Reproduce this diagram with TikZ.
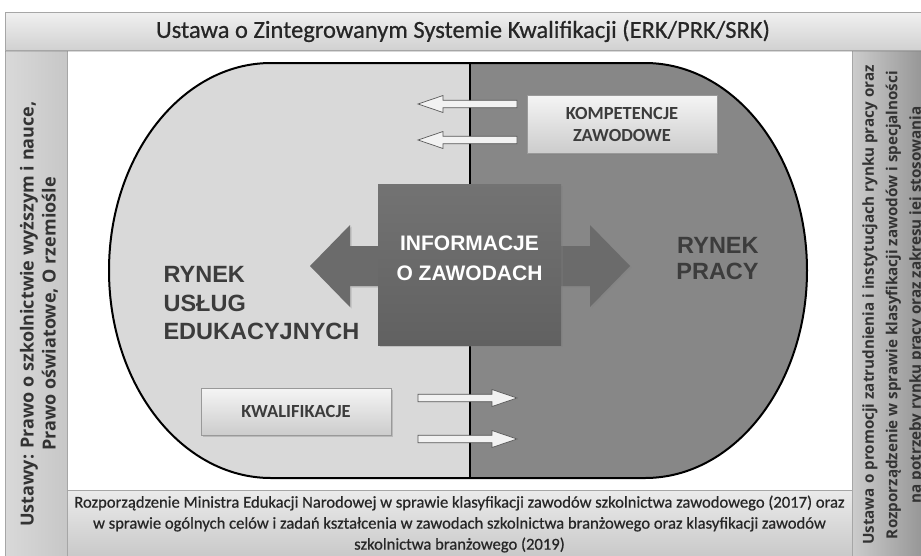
\documentclass[tikz,border=0pt]{standalone}
\usepackage{fontspec}
\setmainfont{Carlito}
\newfontfamily\calmed{Carlito}[FakeBold=0.6]
\newfontfamily\arialf{Liberation Sans}
\newfontfamily\osans{Open Sans}
\usetikzlibrary{shadows}
\definecolor{lgray}{HTML}{D9D9D9}
\definecolor{dgray}{HTML}{878787}
\definecolor{txtdark}{HTML}{3C3C3C}
\definecolor{barline}{HTML}{A6A6A6}
\tikzset{
  barbox/.style={draw=barline, line width=0.8pt, inner sep=0pt, anchor=north west},
  lightbox/.style={draw=black!40, line width=0.6pt, top color=white!96!black, bottom color=black!20,
    inner sep=0pt, font=\fontsize{18.5}{22}\selectfont\bfseries, text=txtdark, align=center,
    drop shadow={opacity=0.35, shadow xshift=1.5pt, shadow yshift=-1.5pt}},
  bigtxt/.style={font=\arialf\bfseries\fontsize{23.5}{28.5}\selectfont, text=txtdark},
  hollow/.style={fill=white!95!black, draw=black!65, line width=0.7pt},
  harrow/.pic={\filldraw[hollow] (0,-3.7) -- (74,-3.7) -- (74,-8.5) -- (99,0) -- (74,8.5) -- (74,3.7) -- (0,3.7) -- cycle;}
}
\begin{document}
\begin{tikzpicture}[x=1pt,y=-1pt]
\useasboundingbox (0,0) rectangle (921,555);
\clip (0,0) rectangle (921,555);
\fill[white] (0,0) rectangle (921,555);
% frame bars
\node[barbox, minimum width=62pt, minimum height=528pt, left color=black!15, right color=black!22] (lbar) at (5,50) {};
\node[rotate=90, align=center, font=\osans\bfseries\fontsize{18}{22}\selectfont, text=black!80] (ltxt) at (39,314)
  {Ustawy: Prawo o szkolnictwie wyższym i nauce,\\Prawo oświatowe, O rzemiośle};
\node[barbox, minimum width=83pt, minimum height=510pt, left color=black!20, right color=black!45] (rbar) at (852,50) {};
\node[rotate=90, align=center, font=\osans\bfseries\fontsize{15.2}{23.5}\selectfont, text=black!80] (rtxt) at (893.5,305)
  {Ustawa o promocji zatrudnienia i instytucjach rynku pracy oraz\\Rozporządzenie w sprawie klasyfikacji zawodów i specjalności\\na potrzeby rynku pracy oraz zakresu jej stosowania};
\node[barbox, minimum width=785pt, minimum height=70pt, top color=black!8, bottom color=black!22] (bbar) at (67,490) {};
\node[align=center, font=\calmed\fontsize{16.6}{21}\selectfont, text=black!85] (btxt) at (459.5,524)
  {Rozporządzenie Ministra Edukacji Narodowej w sprawie klasyfikacji zawodów szkolnictwa zawodowego (2017) oraz\\
   w sprawie ogólnych celów i zadań kształcenia w zawodach szkolnictwa branżowego oraz klasyfikacji zawodów\\
   szkolnictwa branżowego (2019)};
\node[barbox, minimum width=916pt, minimum height=38pt, top color=black!6, bottom color=black!18,
  drop shadow={opacity=0.3, shadow xshift=0pt, shadow yshift=-1.5pt}] (ban) at (5,12) {};
\node[font=\calmed\fontsize{24.5}{26}\selectfont, text=black!85] (bantxt) at (463,31)
  {Ustawa o Zintegrowanym Systemie Kwalifikacji (ERK/PRK/SRK)};
% stadium
\begin{scope}
\clip (271,63) -- (645,63) arc[start angle=-90,end angle=90,x radius=162,y radius=207.5]
  -- (271,478) arc[start angle=90,end angle=270,x radius=162,y radius=207.5] -- cycle;
\fill[lgray] (100,55) rectangle (469.5,485);
\fill[dgray] (469.5,55) rectangle (820,485);
\end{scope}
\draw[line width=2pt] (469.5,63) -- (469.5,478);
\draw[line width=2pt] (271,63) -- (645,63) arc[start angle=-90,end angle=90,x radius=162,y radius=207.5]
  -- (271,478) arc[start angle=90,end angle=270,x radius=162,y radius=207.5] -- cycle;
% double arrow and square
\fill[black!58, drop shadow={opacity=0.3, shadow xshift=1.5pt, shadow yshift=-1.5pt}]
  (310,266) -- (350,225) -- (350,246) -- (590,246) -- (590,225) -- (630,266) -- (590,307) -- (590,286)
  -- (350,286) -- (350,307) -- cycle;
\node[minimum width=183pt, minimum height=161pt, inner sep=0pt, top color=black!55, bottom color=black!62,
  drop shadow={opacity=0.3, shadow xshift=1.5pt, shadow yshift=-1.5pt}] (info) at (469.5,264.5) {};
\node[align=center, font=\arialf\bfseries\fontsize{21}{30}\selectfont, text=white] (infotxt) at (469.5,258)
  {INFORMACJE\\O ZAWODACH};
% market labels
\node[bigtxt, align=left, anchor=north west] (edu) at (160,263) {RYNEK\\USŁUG\\EDUKACYJNYCH};
\node[bigtxt, align=right, font=\arialf\bfseries\fontsize{23.5}{26}\selectfont] (praca) at (717.5,259) {RYNEK\\PRACY};
% boxes
\node[lightbox, minimum width=190pt, minimum height=58pt] (komp) at (622,124) {KOMPETENCJE\\ZAWODOWE};
\node[lightbox, minimum width=190pt, minimum height=47pt] (kwal) at (296,411.5) {KWALIFIKACJE};
% hollow arrows
\coordinate (ka) at (517,104);
\coordinate (kb) at (517,140);
\coordinate (qa) at (418,398);
\coordinate (qb) at (418,439);
\pic[xscale=-1] at (ka) {harrow};
\pic[xscale=-1] at (kb) {harrow};
\pic at (qa) {harrow};
\pic at (qb) {harrow};
\end{tikzpicture}
\end{document}
